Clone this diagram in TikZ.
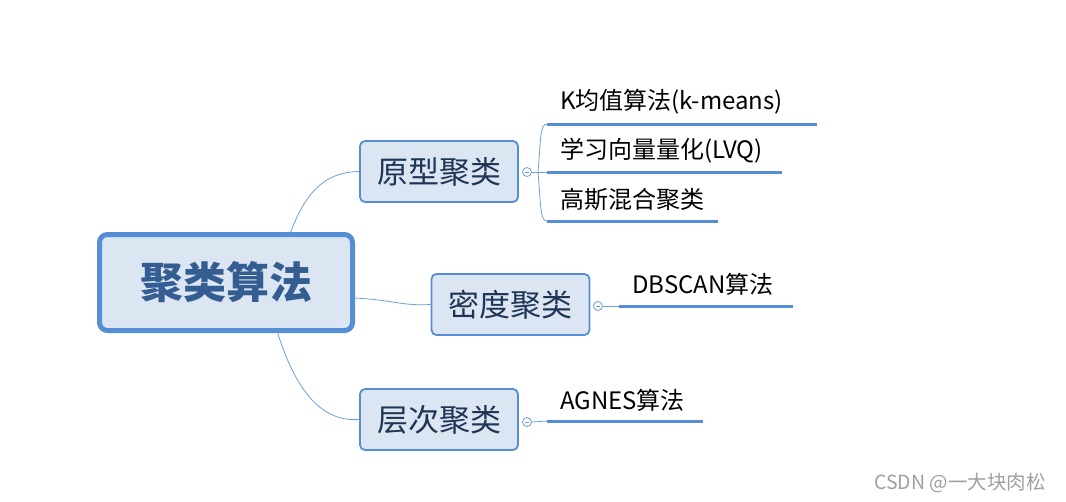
\documentclass[tikz,border=0pt]{standalone}
\usepackage{fontspec}
\setmainfont{Noto Sans CJK SC}
\usetikzlibrary{positioning}
\definecolor{boxfill}{HTML}{DCE6F2}
\definecolor{boxline}{HTML}{558ED5}
\definecolor{linkline}{HTML}{6F9FDA}
\definecolor{roottext}{HTML}{345D92}
\definecolor{topictext}{HTML}{1F3556}
\begin{document}
\begin{tikzpicture}[x=1pt,y=-1pt,
	root/.style={draw=boxline, line width=5pt, fill=boxfill, rounded corners=8pt,
		minimum width=253pt, minimum height=96pt, inner sep=0pt,
		font=\fontsize{43}{43}\selectfont\bfseries, text=roottext},
	topic/.style={draw=boxline, line width=1.8pt, fill=boxfill, rounded corners=5pt,
		minimum width=158pt, minimum height=61pt, inner sep=0pt,
		font=\fontsize{31}{31}\selectfont, text=topictext},
	leaf/.style={anchor=west, inner sep=0pt, font=\fontsize{24}{24}\selectfont},
	uline/.style={boxline, line width=3pt},
	link/.style={linkline, line width=0.8pt},
	knob/.style={circle, draw=linkline, fill=white, line width=0.8pt, minimum size=9pt, inner sep=0pt,
		text=linkline, font=\fontsize{4}{4}\selectfont}]
	\useasboundingbox (0,0) rectangle (1066,501);
	%
	\node[root] (cluster) at (226,282.5) {聚类算法};
	\node[topic] (proto) at (439,171.5) {原型聚类};
	\node[topic] (dens) at (510.5,304.5) {密度聚类};
	\node[topic] (hier) at (439,419.5) {层次聚类};
	%
	\coordinate (rootTop) at (290,234);
	\coordinate (rootRight) at (354,298);
	\coordinate (rootBot) at (277,331);
	\draw[link] (rootTop) .. controls (304,196) and (322,172) .. (proto.west);
	\draw[link] (rootRight) .. controls (395,300) and (400,306) .. (dens.west);
	\draw[link] (rootBot) .. controls (296,392) and (322,422) .. (hier.west);
	%
	\node[knob] (protoKnob) at (527,172) {\rule{4.5pt}{0.7pt}};
	\node[knob] (densKnob) at (598,306) {\rule{4.5pt}{0.7pt}};
	\node[knob] (hierKnob) at (527,422) {\rule{4.5pt}{0.7pt}};
	%
	\node[leaf] (kmeans) at (560,102) {K均值算法(k-means)};
	\node[leaf] (lvq) at (560,151) {学习向量量化(LVQ)};
	\node[leaf] (gmm) at (560,200) {高斯混合聚类};
	\node[leaf] (dbscan) at (632,284) {DBSCAN算法};
	\node[leaf] (agnes) at (560,400) {AGNES算法};
	%
	\coordinate (kmA) at (547,124); \coordinate (kmB) at (817,124);
	\coordinate (lvqA) at (547,172); \coordinate (lvqB) at (782,172);
	\coordinate (gmmA) at (547,221); \coordinate (gmmB) at (718,221);
	\coordinate (dbA) at (619,306); \coordinate (dbB) at (793,306);
	\coordinate (agA) at (547,421); \coordinate (agB) at (703,421);
	\draw[uline] (kmA) -- (kmB);
	\draw[uline] (lvqA) -- (lvqB);
	\draw[uline] (gmmA) -- (gmmB);
	\draw[uline] (dbA) -- (dbB);
	\draw[uline] (agA) -- (agB);
	%
	\coordinate (protoFork) at (538,172);
	\draw[link] (protoKnob.east) -- (lvqA);
	\draw[link] (protoFork) .. controls (541,138) and (540,124) .. (kmA);
	\draw[link] (protoFork) .. controls (541,206) and (540,221) .. (gmmA);
	\draw[link] (densKnob.east) -- (dbA);
	\draw[link] (hierKnob.east) -- (agA);
	%
	\node[text=gray!75, font=\fontsize{19.5}{19.5}\selectfont] (mark) at (960,483) {CSDN @一大块肉松};
\end{tikzpicture}
\end{document}
